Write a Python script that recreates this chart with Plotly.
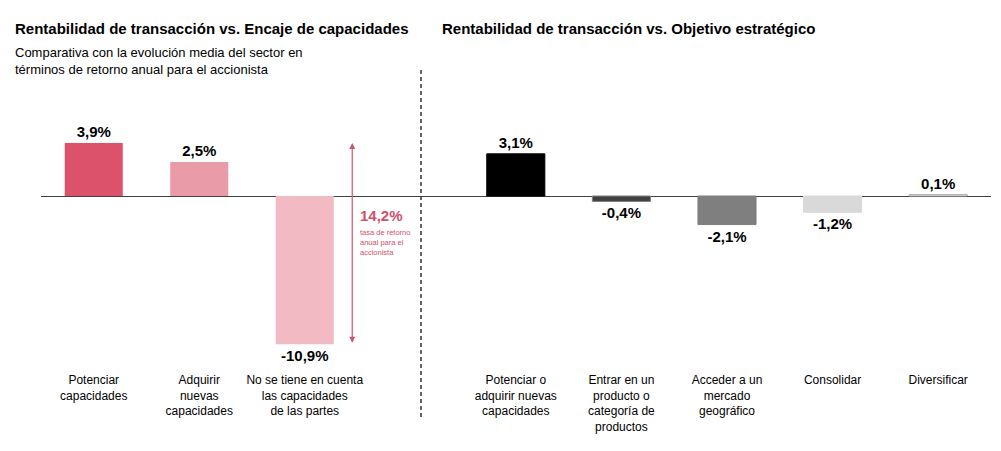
import plotly.graph_objects as go

# ---- data ----
left_categories = ["Potenciar<br>capacidades", "Adquirir<br>nuevas<br>capacidades",
                   "No se tiene en cuenta<br>las capacidades<br>de las partes"]
left_values = [3.9, 2.5, -10.9]
left_colors = ["#DC526A", "#E99BA7", "#F2BBC3"]

right_categories = ["Potenciar o<br>adquirir nuevas<br>capacidades",
                    "Entrar en un<br>producto o<br>categoría de<br>productos",
                    "Acceder a un<br>mercado<br>geográfico", "Consolidar", "Diversificar"]
right_values = [3.1, -0.4, -2.1, -1.2, 0.1]
right_colors = ["#000000", "#404040", "#7F7F7F", "#D9D9D9", "#FFFFFF"]
right_line = ["#000000", "#808080", "#7F7F7F", "#D9D9D9", "#A6A6A6"]

spread_label = "14,2%"
spread_note = "tasa de retorno<br>anual para el<br>accionista"

title_left = "Rentabilidad de transacción vs. Encaje de capacidades"
title_right = "Rentabilidad de transacción vs. Objetivo estratégico"
subtitle_left = "Comparativa con la evolución media del sector en<br>términos de retorno anual para el accionista"


def fmt(v):
    return f"{v:.1f}".replace(".", ",") + "%"


OFF = 8  # page body margin
W, H = 1001 - OFF, 451 - OFF
# all positions below are in reference-picture pixels
PLOT_TOP, PLOT_BOT = 100, 362
ZERO_PX = 196
PX_PER_UNIT = 13.6
y_top = (ZERO_PX - PLOT_TOP) / PX_PER_UNIT
y_bot = -(PLOT_BOT - ZERO_PX) / PX_PER_UNIT


def py(ypx):
    return (PLOT_BOT - ypx) / (PLOT_BOT - PLOT_TOP)


def px(xpx):
    return (xpx - OFF) / W


FONT = "Liberation Sans, Arial, sans-serif"

fig = go.Figure()
fig.add_trace(go.Bar(
    x=left_categories, y=left_values, xaxis="x", yaxis="y",
    marker=dict(color=left_colors, line=dict(width=0)),
    width=0.55,
    text=[fmt(v) for v in left_values], textposition="outside",
    textfont=dict(family=FONT, size=15, color="#000000", weight="bold"),
    cliponaxis=False, showlegend=False,
))
fig.add_trace(go.Bar(
    x=right_categories, y=right_values, xaxis="x2", yaxis="y2",
    marker=dict(color=right_colors, line=dict(width=1, color=right_line)),
    width=0.55,
    text=[fmt(v) for v in right_values], textposition="outside",
    textfont=dict(family=FONT, size=15, color="#000000", weight="bold"),
    cliponaxis=False, showlegend=False,
))

d1 = (px(41), px(463))
d2 = (px(463), px(991))
axis_common = dict(showgrid=False, showline=False, ticks="", type="category",
                   ticklabelstandoff=9,
                   tickfont=dict(family=FONT, size=12, color="#000000"))
yaxis_common = dict(range=[y_bot, y_top], showgrid=False, showticklabels=False,
                    zeroline=True, zerolinecolor="#404040", zerolinewidth=1.2,
                    showline=False)

fig.update_layout(
    width=W, height=H,
    margin=dict(l=0, r=0, t=PLOT_TOP - OFF, b=(451 - PLOT_BOT)),
    paper_bgcolor="white", plot_bgcolor="white",
    font=dict(family=FONT, color="#000000"),
    xaxis=dict(domain=list(d1), range=[-0.5, 3.5], anchor="y", **axis_common),
    xaxis2=dict(domain=list(d2), range=[-0.5, 4.5], anchor="y2", **axis_common),
    yaxis=dict(domain=[0, 1], anchor="x", **yaxis_common),
    yaxis2=dict(domain=[0, 1], anchor="x2", **yaxis_common),
    bargap=0.45,
)

annotations = [
    dict(xref="paper", yref="paper", x=px(13), y=py(28), text=f"<b>{title_left}</b>",
         showarrow=False, xanchor="left", yanchor="middle",
         font=dict(family=FONT, size=15, color="#000000")),
    dict(xref="paper", yref="paper", x=px(440), y=py(28), text=f"<b>{title_right}</b>",
         showarrow=False, xanchor="left", yanchor="middle",
         font=dict(family=FONT, size=15, color="#000000")),
    dict(xref="paper", yref="paper", x=px(13), y=py(43), text=subtitle_left,
         showarrow=False, xanchor="left", yanchor="top", align="left",
         font=dict(family=FONT, size=13, color="#000000")),
    # double arrow spanning the gap
    dict(xref="x", yref="y", x=2.45, y=left_values[0], axref="x", ayref="y",
         ax=2.45, ay=left_values[2], showarrow=True, arrowhead=2, arrowside="end+start",
         arrowsize=1, arrowwidth=1.2, arrowcolor="#C9566E", startarrowhead=2,
         text="", standoff=0, startstandoff=0),
    dict(xref="x", yref="y", x=2.50, y=(ZERO_PX - 215) / PX_PER_UNIT, text=f"<b>{spread_label}</b>",
         showarrow=False, xanchor="left", yanchor="middle",
         font=dict(family=FONT, size=15, color="#D0506A")),
    dict(xref="x", yref="y", x=2.50, y=(ZERO_PX - 226) / PX_PER_UNIT, text=spread_note,
         showarrow=False, xanchor="left", yanchor="top", align="left",
         font=dict(family=FONT, size=7.5, color="#D0506A")),
]
fig.update_layout(annotations=annotations)

fig.add_shape(type="line", xref="paper", yref="paper", x0=px(421), x1=px(421),
              y0=py(70), y1=py(420), line=dict(color="#333333", width=1.5, dash="4px,3px"))

fig.write_html("out.html")
